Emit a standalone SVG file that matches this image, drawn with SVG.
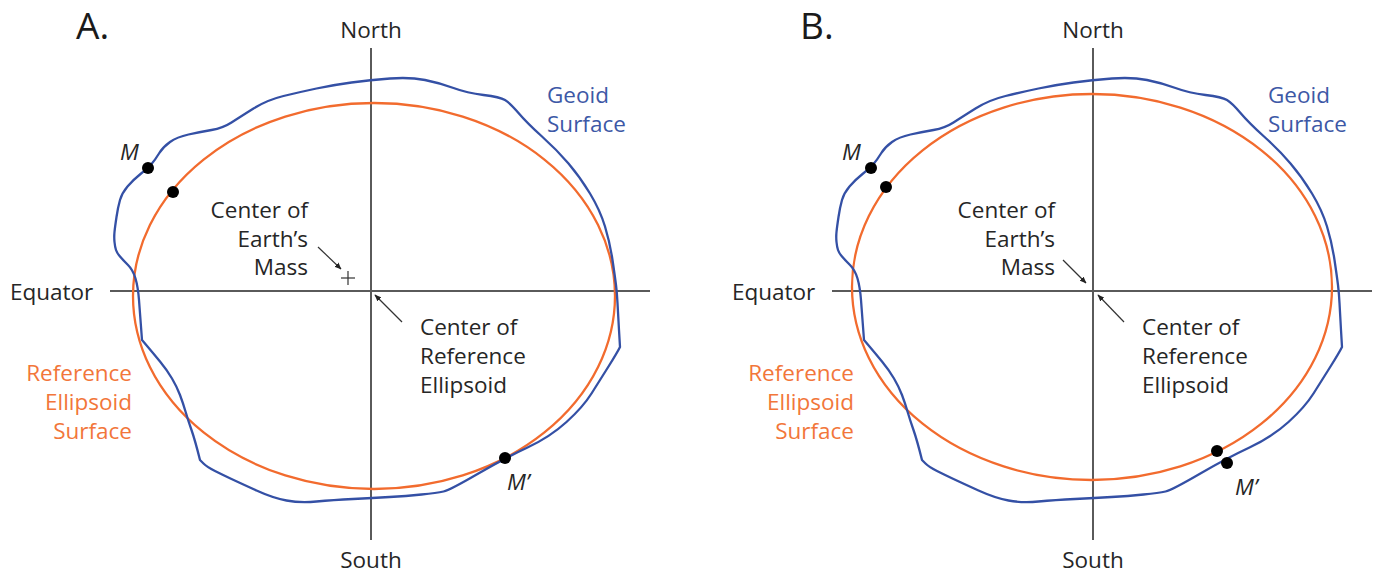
<svg xmlns="http://www.w3.org/2000/svg" xmlns:xlink="http://www.w3.org/1999/xlink" width="1375" height="574" viewBox="0 0 1375 574">
<style>
text{font-family:"Open Sans","Noto Sans","Liberation Sans",sans-serif;font-size:22.5px;fill:#262626}
.panel{font-size:37px;fill:#1a1a1a}
.blue{fill:#3d58a6}
.orange{fill:#f2763a}
.it{font-style:italic}
.r{text-anchor:end}
.c{text-anchor:middle}
.axis{stroke:#5a5a5a;stroke-width:2;fill:none}
.geoid{stroke:#3450a5;stroke-width:2.3;fill:none;stroke-linejoin:round}
.ell{stroke:#f26b2e;stroke-width:2.3;fill:none}
.ptr{stroke:#333;stroke-width:1.2;fill:none}
.dot{fill:#000}
</style>
<defs>
<marker id="ah" viewBox="0 0 10 10" refX="9" refY="5" markerWidth="7" markerHeight="7" orient="auto" markerUnits="userSpaceOnUse">
<path d="M0,1 L10,5 L0,9 z" fill="#222"/>
</marker>
<path id="geoidShape" class="geoid" d="M-19.5,-208.5 Q-1,-211 19,-212.5 Q39,-214 54,-211 Q69,-208 82.5,-203 Q96,-198 112.5,-196 Q129,-194 134,-191 Q139,-188 147.5,-178 Q156,-168 171,-154.5 Q186,-141 197.5,-127.5 Q209,-114 219,-97.5 Q229,-81 234,-64.5 Q239,-48 241.5,-31 Q244,-14 245,-6 Q246,2 246.5,12 Q247,22 248,39 L249,56 Q246,62 237.5,75.5 Q229,89 220.5,102.5 Q212,116 195.5,131 Q179,146 156.5,156.5 Q134,167 106.5,183 Q79,199 72.5,200.5 Q66,202 50.5,203.5 Q35,205 18.5,206 Q2,207 -18,208 Q-38,209 -54.5,210.5 Q-71,212 -84.5,209.5 Q-98,207 -114.5,199.5 Q-131,192 -139.5,188 Q-148,184 -156,180 Q-164,176 -167.5,172.5 L-171,169 Q-176,149 -179.5,139 Q-183,129 -185.5,120.5 Q-188,112 -191,104 Q-194,96 -199,87.5 Q-204,79 -211,70.5 Q-218,62 -223.5,55.5 L-229,49 Q-231,22 -232,9 Q-233,-4 -235.5,-12.5 Q-238,-21 -243,-26 Q-248,-31 -251,-34.5 Q-254,-38 -255,-41 Q-256,-44 -256.5,-49 Q-257,-54 -256.5,-59 Q-256,-64 -254.5,-74 Q-253,-84 -251,-91 Q-249,-98 -243.5,-104.5 Q-238,-111 -230.5,-117 Q-223,-123 -219.5,-127 Q-216,-131 -212,-137.5 Q-208,-144 -201,-149 Q-194,-154 -182.5,-156.5 Q-171,-159 -159.5,-161 Q-148,-163 -139.5,-168.5 Q-131,-174 -117.5,-182.5 Q-104,-191 -87.5,-195 Q-71,-199 -54.5,-202.5 Q-38,-206 -19.5,-208.5 Z"/>
</defs>

<g id="panelA">
  <text class="panel" x="76" y="39">A.</text>
  <g id="axesA">
    <line class="axis" x1="371" y1="48" x2="371" y2="540"/>
    <line class="axis" x1="110" y1="291" x2="650" y2="291"/>
  </g>
  <text class="c" x="371" y="38">North</text>
  <text class="c" x="371" y="568">South</text>
  <text x="10" y="300">Equator</text>
  <ellipse id="ellipsoidA" class="ell" cx="374" cy="296" rx="241" ry="193"/>
  <use id="geoidA" xlink:href="#geoidShape" href="#geoidShape" transform="translate(371,291)"/>
  <g id="pointsA">
    <circle class="dot" cx="148" cy="168" r="6"/>
    <circle class="dot" cx="173" cy="192" r="6"/>
    <circle class="dot" cx="505" cy="458" r="6"/>
    <text class="it" x="120" y="160">M</text>
    <text class="it" x="507" y="490">M’</text>
  </g>
  <g id="massA">
    <line class="ptr" x1="341" y1="278" x2="355" y2="278"/>
    <line class="ptr" x1="348" y1="271" x2="348" y2="285"/>
  </g>
  <g id="labelsA">
    <text class="blue" x="547" y="103">Geoid</text>
    <text class="blue" x="547" y="132">Surface</text>
    <text class="orange r" x="132" y="381">Reference</text>
    <text class="orange r" x="132" y="410">Ellipsoid</text>
    <text class="orange r" x="132" y="439">Surface</text>
    <text class="r" x="308" y="218">Center of</text>
    <text class="r" x="308" y="247">Earth’s</text>
    <text class="r" x="308" y="275">Mass</text>
    <text x="420" y="335">Center of</text>
    <text x="420" y="364">Reference</text>
    <text x="420" y="393">Ellipsoid</text>
  </g>
</g>

<g id="panelB">
  <text class="panel" x="800" y="39">B.</text>
  <g id="axesB">
    <line class="axis" x1="1093" y1="48" x2="1093" y2="540"/>
    <line class="axis" x1="832" y1="291" x2="1372" y2="291"/>
  </g>
  <text class="c" x="1093" y="38">North</text>
  <text class="c" x="1093" y="568">South</text>
  <text x="732" y="300">Equator</text>
  <ellipse id="ellipsoidB" class="ell" cx="1092" cy="287" rx="240" ry="193"/>
  <use id="geoidB" xlink:href="#geoidShape" href="#geoidShape" transform="translate(1093,291)"/>
  <g id="pointsB">
    <circle class="dot" cx="871" cy="168" r="6"/>
    <circle class="dot" cx="886" cy="187" r="6"/>
    <circle class="dot" cx="1217" cy="451" r="6"/>
    <circle class="dot" cx="1227" cy="463" r="6"/>
    <text class="it" x="842" y="160">M</text>
    <text class="it" x="1235" y="495">M’</text>
  </g>
  <g id="labelsB">
    <text class="blue" x="1268" y="103">Geoid</text>
    <text class="blue" x="1268" y="132">Surface</text>
    <text class="orange r" x="854" y="381">Reference</text>
    <text class="orange r" x="854" y="410">Ellipsoid</text>
    <text class="orange r" x="854" y="439">Surface</text>
    <text class="r" x="1055" y="218">Center of</text>
    <text class="r" x="1055" y="247">Earth’s</text>
    <text class="r" x="1055" y="275">Mass</text>
    <text x="1142" y="335">Center of</text>
    <text x="1142" y="364">Reference</text>
    <text x="1142" y="393">Ellipsoid</text>
  </g>
</g>

<g id="connectors">
  <line class="ptr" x1="318" y1="247" x2="341" y2="269" marker-end="url(#ah)"/>
  <line class="ptr" x1="402" y1="322" x2="375" y2="295" marker-end="url(#ah)"/>
  <line class="ptr" x1="1063" y1="260" x2="1086" y2="283" marker-end="url(#ah)"/>
  <line class="ptr" x1="1124" y1="322" x2="1098" y2="295" marker-end="url(#ah)"/>
</g>
</svg>
